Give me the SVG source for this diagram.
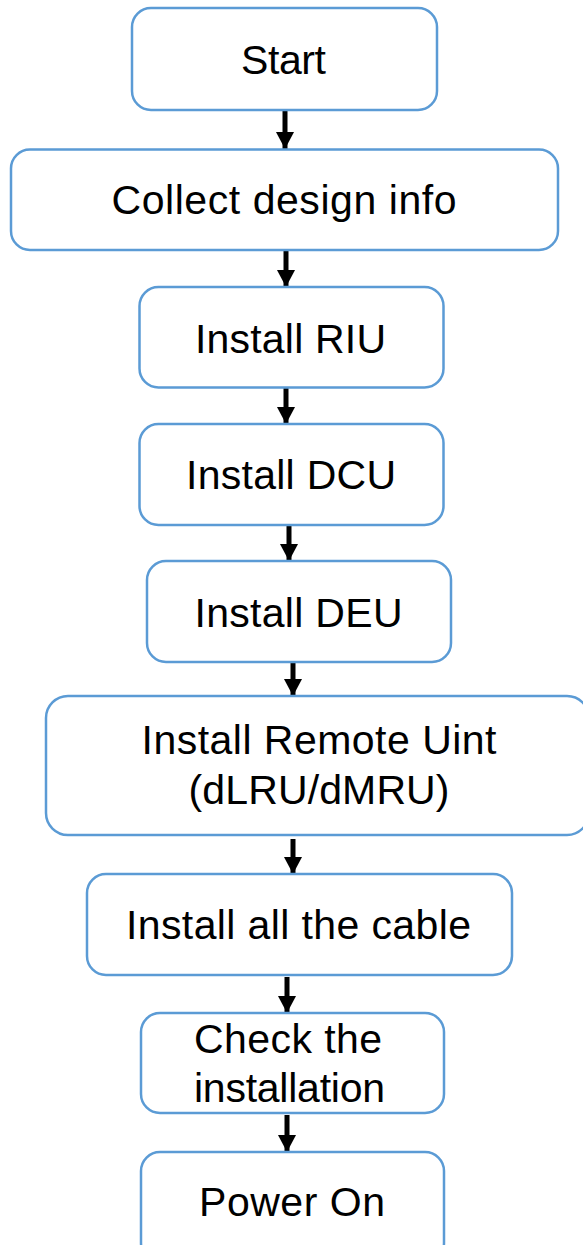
<svg xmlns="http://www.w3.org/2000/svg" width="583" height="1245" viewBox="0 0 583 1245">
<style>
.box{fill:#ffffff;stroke:#5b9bd5;stroke-width:2.5}
.lbl{font-family:"Liberation Sans",Arial,sans-serif;font-size:41px;fill:#000000;text-anchor:middle}
.conn{stroke:#000000;stroke-width:5;fill:none;marker-end:url(#ah)}
</style>
<defs>
<marker id="ah" markerUnits="userSpaceOnUse" markerWidth="18" markerHeight="18" refX="17" refY="9" orient="auto">
<path d="M0,0 L17,9 L0,18 Z" fill="#000000"/>
</marker>
</defs>
<rect width="583" height="1245" fill="#ffffff"/>
<g id="connectors">
<line class="conn" x1="285" y1="110" x2="285" y2="149"/>
<line class="conn" x1="286" y1="251" x2="286" y2="287"/>
<line class="conn" x1="286" y1="388" x2="286" y2="424"/>
<line class="conn" x1="289" y1="525" x2="289" y2="561"/>
<line class="conn" x1="293" y1="663" x2="293" y2="696"/>
<line class="conn" x1="293" y1="839" x2="293" y2="874"/>
<line class="conn" x1="287" y1="977" x2="287" y2="1013"/>
<line class="conn" x1="287" y1="1115" x2="287" y2="1152"/>
</g>
<g id="start">
<rect class="box" x="132" y="8" width="305" height="102" rx="19"/>
<text class="lbl" x="283.5" y="74" textLength="85">Start</text>
</g>
<g id="collect">
<rect class="box" x="11" y="149.5" width="547" height="100.5" rx="19"/>
<text class="lbl" x="284" y="214" textLength="345">Collect design info</text>
</g>
<g id="riu">
<rect class="box" x="139.5" y="287" width="304" height="100.5" rx="19"/>
<text class="lbl" x="290.5" y="353" textLength="191">Install RIU</text>
</g>
<g id="dcu">
<rect class="box" x="139.5" y="424" width="304" height="101" rx="19"/>
<text class="lbl" x="291" y="489" textLength="210">Install DCU</text>
</g>
<g id="deu">
<rect class="box" x="147" y="561" width="304" height="101" rx="19"/>
<text class="lbl" x="298.5" y="626.5" textLength="208">Install DEU</text>
</g>
<g id="remote">
<rect class="box" x="46" y="696" width="543" height="139" rx="22"/>
<text class="lbl" x="319" y="753.5" textLength="355">Install Remote Uint</text>
<text class="lbl" x="319" y="803.5" textLength="261">(dLRU/dMRU)</text>
</g>
<g id="cable">
<rect class="box" x="87" y="874" width="425" height="101" rx="19"/>
<text class="lbl" x="298.5" y="939" textLength="345">Install all the cable</text>
</g>
<g id="check">
<rect class="box" x="141" y="1013" width="303" height="100" rx="19"/>
<text class="lbl" x="288" y="1052.5" textLength="188">Check the</text>
<text class="lbl" x="289.5" y="1101.5" textLength="191">installation</text>
</g>
<g id="power">
<rect class="box" x="141" y="1152" width="303" height="110" rx="19"/>
<text class="lbl" x="292" y="1216" textLength="186">Power On</text>
</g>
</svg>
